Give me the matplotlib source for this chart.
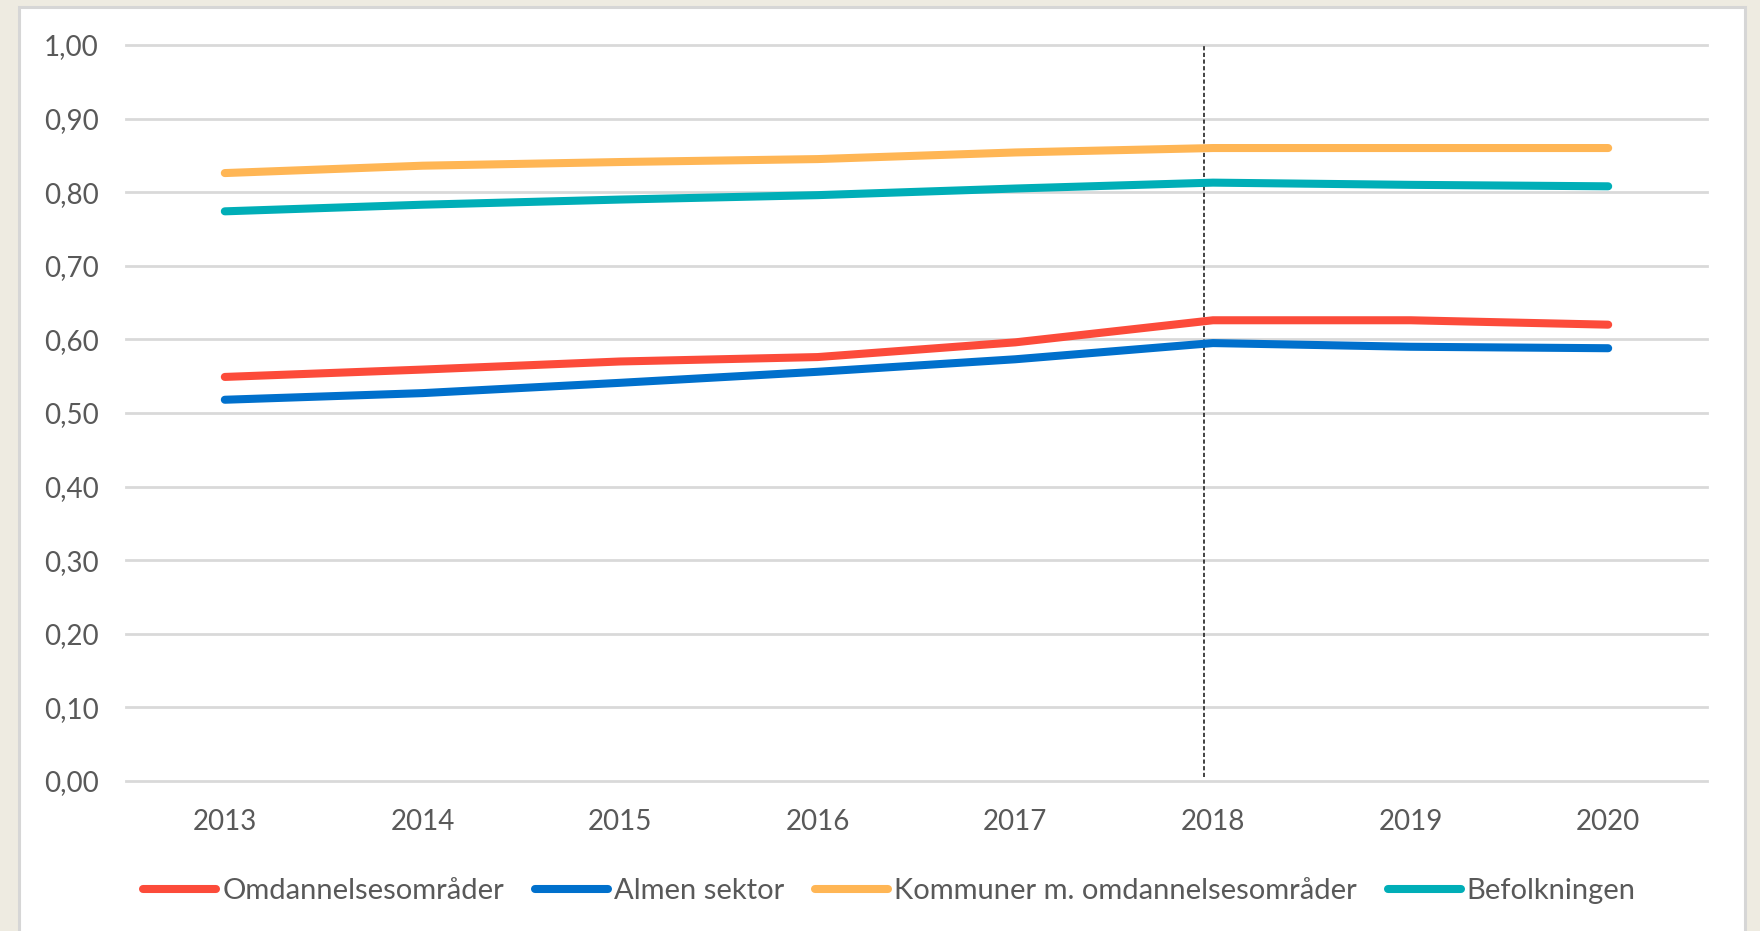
import matplotlib
matplotlib.use("Agg")
import matplotlib.pyplot as plt
from matplotlib.patches import Rectangle
from matplotlib.ticker import FuncFormatter

years = ["2013", "2014", "2015", "2016", "2017", "2018", "2019", "2020"]
omdannelse = [0.549, 0.559, 0.570, 0.576, 0.596, 0.626, 0.626, 0.620]
almen = [0.518, 0.527, 0.541, 0.556, 0.573, 0.595, 0.590, 0.588]
kommuner = [0.826, 0.836, 0.841, 0.845, 0.854, 0.860, 0.860, 0.860]
befolkning = [0.774, 0.783, 0.790, 0.796, 0.805, 0.813, 0.810, 0.808]
series_names = ["Omdannelsesområder", "Almen sektor",
                "Kommuner m. omdannelsesområder", "Befolkningen"]
yticks = [0.0, 0.1, 0.2, 0.3, 0.4, 0.5, 0.6, 0.7, 0.8, 0.9, 1.0]
marker_year_index = 4.955

colors = ["#FC4B3A", "#0070CC", "#FFB655", "#00AEB7"]
text_color = "#595959"
font = ["Lato", "DejaVu Sans"]

W, H = 1760, 931
fig = plt.figure(figsize=(W / 100, H / 100), dpi=100)
fig.patch.set_facecolor("#EEEBE1")
panel = Rectangle((19 / W, -0.05), (1745 - 19) / W, (H - 7) / H + 0.05,
                  transform=fig.transFigure, facecolor="white",
                  edgecolor="#D6D6D6", linewidth=2.2, zorder=-10)
fig.add_artist(panel)

ax = fig.add_axes([126 / W, 1 - 781 / H, (1707 - 126) / W, (781 - 45) / H])
ax.set_zorder(1)
ax.set_facecolor("none")
x = list(range(len(years)))
ax.set_xlim(-0.5, len(years) - 0.5)
ax.set_ylim(0, 1.0)

for t in yticks:
    ax.axhline(t, color="#D9D9D9", linewidth=2.0, clip_on=False, zorder=1)

ax.plot([marker_year_index, marker_year_index], [0.005, 1.0], color="#222222",
        linewidth=1.2, linestyle=(0, (2.5, 1.5)), zorder=2)

for vals, name, c in zip([omdannelse, almen, kommuner, befolkning], series_names, colors):
    ax.plot(x, vals, color=c, linewidth=5.8, solid_capstyle="round",
            solid_joinstyle="round", label=name, zorder=3)

ax.set_xticks(x)
ax.set_xticklabels(years)
ax.set_yticks(yticks)
ax.yaxis.set_major_formatter(FuncFormatter(lambda v, p: f"{v:.2f}".replace(".", ",")))
ax.tick_params(axis="both", length=0, labelsize=20, labelcolor=text_color)
ax.tick_params(axis="y", pad=19.5)
ax.tick_params(axis="x", pad=20.5)
for lab in ax.get_xticklabels() + ax.get_yticklabels():
    lab.set_family(font)
for s in ax.spines.values():
    s.set_visible(False)

leg = ax.legend(loc="center", bbox_to_anchor=(0.483, (781 - 891) / (781 - 45)),
                ncol=4, frameon=False, handlelength=2.5, handletextpad=0.2,
                columnspacing=1.07, prop={"family": font, "size": 21})
for t in leg.get_texts():
    t.set_color(text_color)
for h in leg.get_lines():
    h.set_solid_capstyle("round")

fig.savefig("out.png", dpi=100, facecolor=fig.get_facecolor())
